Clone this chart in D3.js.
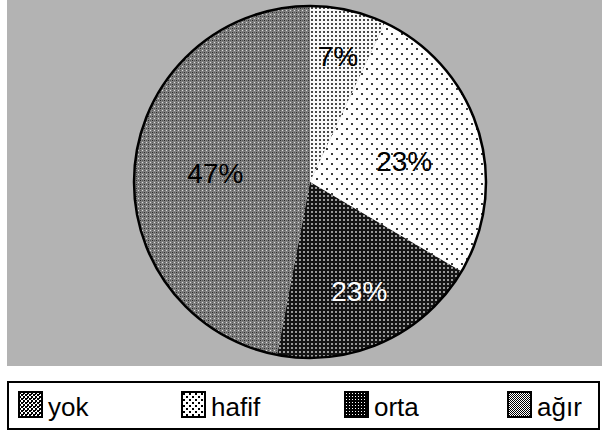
<!DOCTYPE html>
<html lang="tr">
<head>
<meta charset="UTF-8">
<script src="https://cdn.jsdelivr.net/npm/d3@7"></script>
<style>
  body { margin: 0; background: #fff; }
  svg { display: block; font-family: "Liberation Sans", Arial, sans-serif; }
</style>
</head>
<body>
<script>
// data (slice sizes as drawn, labels as printed)
var categories = ["yok", "hafif", "orta", "ağır"];
var values = [7, 26.5, 19.5, 47];
var labelText = ["7%", "23%", "23%", "47%"];
var labelColor = ["#000", "#000", "#fff", "#000"];

var W = 602, H = 434;
var cx = 310, cy = 182, r = 176;
// how far out each label sits, as a share of the radius
var labelPos = [0.73, 0.56, 0.68, 0.54];

var svg = d3.select("body").append("svg")
    .attr("width", W).attr("height", H);

var defs = svg.append("defs");

// fill patterns
function pattern(id, size, bg, dots) {
    var p = defs.append("pattern")
        .attr("id", id)
        .attr("patternUnits", "userSpaceOnUse")
        .attr("width", size).attr("height", size);
    p.append("rect").attr("width", size).attr("height", size).attr("fill", bg);
    dots.forEach(function(d) {
        p.append("rect")
            .attr("x", d[0]).attr("y", d[1])
            .attr("width", d[2]).attr("height", d[2])
            .attr("fill", d[3]);
    });
}
// pie fills
pattern("p-yok", 4, "#fafafa", [[1, 1, 2, "#4a4a4a"]]);
pattern("p-hafif", 10, "#fff", [[1, 1, 2, "#3a3a3a"], [6, 6, 2, "#3a3a3a"]]);
pattern("p-orta", 4, "#151515", [[1, 1, 2, "#999"]]);
pattern("p-agir", 4, "#808080", [[0, 0, 1, "#ddd"], [2, 2, 1, "#2a2a2a"], [2, 0, 1, "#5a5a5a"], [0, 2, 1, "#5a5a5a"]]);
// legend swatches are coarser and harsher
pattern("l-yok", 4, "#fff", [[0, 0, 2, "#000"], [2, 2, 2, "#000"], [0, 2, 1, "#000"]]);
pattern("l-hafif", 6, "#fff", [[1, 1, 2, "#000"], [4, 4, 2, "#000"]]);
pattern("l-orta", 3, "#000", [[1, 1, 1, "#fff"]]);
pattern("l-agir", 2, "#fff", [[0, 0, 1, "#000"], [1, 1, 1, "#000"]]);
var fills = ["url(#p-yok)", "url(#p-hafif)", "url(#p-orta)", "url(#p-agir)"];
var legendFills = ["url(#l-yok)", "url(#l-hafif)", "url(#l-orta)", "url(#l-agir)"];

// grey plot area
svg.append("rect")
    .attr("x", 7).attr("y", 0)
    .attr("width", W - 7).attr("height", 366)
    .attr("fill", "#b3b3b3");

var pie = d3.pie().sort(null).value(function(d) { return d; });
var arcs = pie(values);
var arc = d3.arc().innerRadius(0).outerRadius(r);

var g = svg.append("g").attr("transform", "translate(" + cx + "," + cy + ")");

g.selectAll("path.slice")
    .data(arcs)
    .enter()
    .append("path")
    .attr("class", "slice")
    .attr("d", arc)
    .attr("fill", function(d, i) { return fills[i]; });

g.append("circle")
    .attr("r", r)
    .attr("fill", "none")
    .attr("stroke", "#000")
    .attr("stroke-width", 2.5);

g.selectAll("text.lbl")
    .data(arcs)
    .enter()
    .append("text")
    .attr("class", "lbl")
    .attr("transform", function(d, i) {
        var k = r * labelPos[i];
        var la = d3.arc().innerRadius(k).outerRadius(k);
        var c = la.centroid(d);
        if (i == 1) c[1] += 8;   // hafif label sits a bit lower
        return "translate(" + c + ")";
    })
    .attr("text-anchor", "middle")
    .attr("dy", "0.35em")
    .attr("font-size", 28)
    .attr("fill", function(d, i) { return labelColor[i]; })
    .text(function(d, i) { return labelText[i]; });

// legend
svg.append("rect")
    .attr("x", 8).attr("y", 382)
    .attr("width", 591).attr("height", 47)
    .attr("fill", "#fff")
    .attr("stroke", "#000")
    .attr("stroke-width", 2);

var lx = d3.scalePoint().domain(categories).range([19, 508]);

var item = svg.selectAll("g.leg")
    .data(categories)
    .enter()
    .append("g")
    .attr("class", "leg")
    .attr("transform", function(d) { return "translate(" + lx(d) + ",392)"; });

item.append("rect")
    .attr("width", 23).attr("height", 25)
    .attr("fill", function(d, i) { return legendFills[i]; })
    .attr("stroke", "#000")
    .attr("stroke-width", 2);

item.append("text")
    .attr("x", 29).attr("y", 24)
    .attr("font-size", 26)
    .text(function(d) { return d; });
</script>
</body>
</html>
